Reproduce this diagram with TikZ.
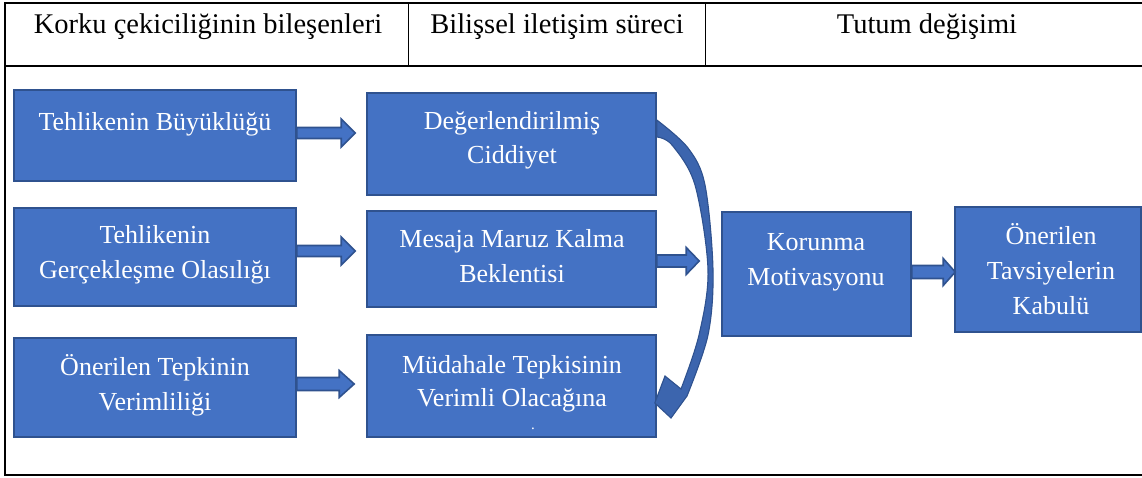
\documentclass[tikz,border=0pt]{standalone}
\usepackage{fontspec}
\setmainfont{Liberation Serif}
\usetikzlibrary{calc}
\definecolor{boxfill}{HTML}{4472C4}
\definecolor{boxline}{HTML}{2F528F}
\definecolor{curvefill}{HTML}{3C65AE}
% straight block arrow: start, tip, shaft half-width, head half-width, head length
\newcommand\blockarrow[5]{%
  \draw[blkarrow] ($(#1)+(0,#3)$) -- ($(#2)+(-#5,#3)$) -- ($(#2)+(-#5,#4)$) -- (#2)
    -- ($(#2)+(-#5,-#4)$) -- ($(#2)+(-#5,-#3)$) -- ($(#1)+(0,-#3)$) -- cycle;}
\begin{document}
\begin{tikzpicture}[x=1pt,y=-1pt,
  box/.style={draw=boxline, fill=boxfill, line width=1.6pt, inner sep=0pt},
  lbl/.style={anchor=base, inner sep=0pt, text=white, font=\fontsize{26}{31}\selectfont},
  headtext/.style={anchor=base, inner sep=0pt, font=\fontsize{28.5}{34}\selectfont},
  rule/.style={line width=2.2pt},
  thinrule/.style={line width=1pt},
  blkarrow/.style={draw=boxline, fill=boxfill, line width=1.6pt, line join=miter},
  curvearrow/.style={draw=boxline, fill=curvefill, line width=1.1pt, line join=miter}]
\useasboundingbox (0,0) rectangle (1142,477);

% table frame
\draw[rule] (5,3) -- (1150,3);
\draw[rule] (5,66) -- (1150,66);
\draw[rule] (5,475) -- (1150,475);
\draw[rule] (5,2) -- (5,476);
\draw[thinrule] (408,3) -- (408,66);
\draw[thinrule] (705,3) -- (705,66);

% column headings
\node[headtext] (h1) at (208,33) {Korku çekiciliğinin bileşenleri};
\node[headtext] (h2) at (557,33) {Bilişsel iletişim süreci};
\node[headtext] (h3) at (927,33) {Tutum değişimi};

% first column
\node[box, minimum width=282pt, minimum height=91pt] (a1) at (155,135.5) {};
\node[box, minimum width=282pt, minimum height=98pt] (a2) at (155,257) {};
\node[box, minimum width=282pt, minimum height=99pt] (a3) at (155,387.5) {};
% second column
\node[box, minimum width=289pt, minimum height=102pt] (b1) at (511.5,144) {};
\node[box, minimum width=289pt, minimum height=96pt] (b2) at (511.5,259) {};
\node[box, minimum width=289pt, minimum height=102pt] (b3) at (511.5,386) {};
% outcome boxes
\node[box, minimum width=189pt, minimum height=124pt] (k) at (816.5,274) {};
\node[box, minimum width=186pt, minimum height=125pt] (o) at (1048,269.5) {};

% box texts
\node[lbl] (a1t) at (155,130) {Tehlikenin Büyüklüğü};
\node[lbl] (a2t) at (155,243) {Tehlikenin};
\node[lbl] (a2u) at (155,278) {Gerçekleşme Olasılığı};
\node[lbl] (a3t) at (155,375) {Önerilen Tepkinin};
\node[lbl] (a3u) at (155,410) {Verimliliği};
\node[lbl] (b1t) at (512,129) {Değerlendirilmiş};
\node[lbl] (b1u) at (512,163) {Ciddiyet};
\node[lbl] (b2t) at (512,247) {Mesaja Maruz Kalma};
\node[lbl] (b2u) at (512,282) {Beklentisi};
\node[lbl] (b3t) at (512,373) {Müdahale Tepkisinin};
\node[lbl] (b3u) at (512,406) {Verimli Olacağına};
\node[lbl, font=\fontsize{15}{15}\selectfont] (b3v) at (533,429) {.};
\node[lbl] (kt) at (816,250) {Korunma};
\node[lbl] (ku) at (816,285) {Motivasyonu};
\node[lbl] (ot) at (1051,244) {Önerilen};
\node[lbl] (ou) at (1051,279) {Tavsiyelerin};
\node[lbl] (ov) at (1051,314) {Kabulü};

% straight block arrows
\coordinate (r1s) at ($(a1.east)+(0,-2.5)$);
\coordinate (r1e) at ($(r1s -| b1.west)+(-11,0)$);
\coordinate (r2s) at ($(a2.east)+(0,-6)$);
\coordinate (r2e) at ($(r2s -| b2.west)+(-11,0)$);
\coordinate (r3s) at ($(a3.east)+(0,-3.5)$);
\coordinate (r3e) at ($(r3s -| b3.west)+(-12,0)$);
\coordinate (r4s) at ($(b2.east)+(0,2)$);
\coordinate (r4e) at ($(r4s -| k.west)+(-22,0)$);
\coordinate (r5s) at ($(k.east)+(0,-2)$);
\coordinate (r5e) at ($(r5s -| o.west)+(1,0)$);
\blockarrow{r1s}{r1e}{5.5}{14}{14}
\blockarrow{r2s}{r2e}{5.5}{14}{14}
\blockarrow{r3s}{r3e}{6.5}{13.5}{15}
\blockarrow{r4s}{r4e}{6}{13.5}{13}
\blockarrow{r5s}{r5e}{6.5}{13.5}{12}

% curved arrow from the first to the third box of the second column
\coordinate (cs1) at ($(b1.east)+(0,-24)$);
\coordinate (cs2) at ($(b1.east)+(0,-7)$);
\coordinate (ctip) at ($(b3.east)+(-2,17)$);
\draw[curvearrow]
  plot[smooth, tension=0.55] coordinates {(cs1) (688,148) (705,185) (713,270) (708,335) (687,396)}
  -- (671,418) -- (ctip) -- (665,376)
  -- plot[smooth, tension=0.55] coordinates {(681,389) (699,335) (708,270) (695,185) (672,145) (cs2)}
  -- cycle;
\end{tikzpicture}
\end{document}
